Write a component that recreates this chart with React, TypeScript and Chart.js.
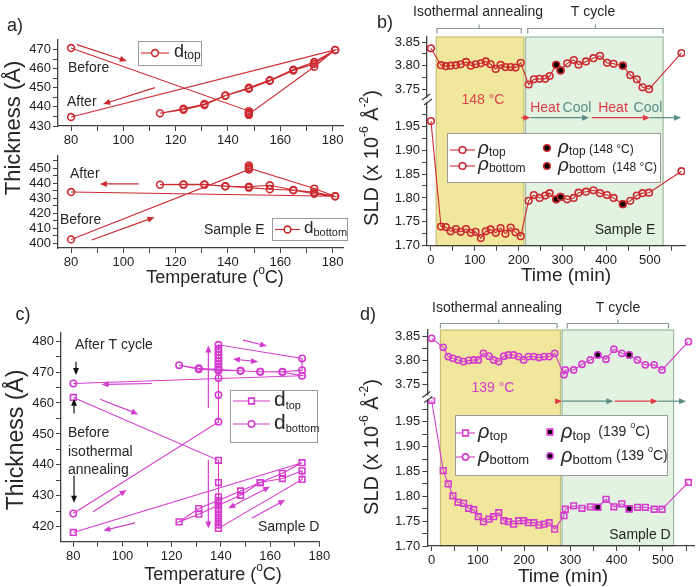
import React, { useEffect, useRef } from 'react';
import { Chart, registerables } from 'chart.js';

Chart.register(...registerables);

const FONT = '"Liberation Sans", Arial, sans-serif';
const RED = '#cc2a31';
const MAG = '#d43ccf';
const INK = '#262626';
const AX = '#404040';
const YEL = '#f0e69c';
const YEL_EDGE = '#c8bd72';
const GRN = '#e3f3e1';
const GRN_EDGE = '#9dba9d';
const BRK = '#8a9aa0';
const HEAT = '#de3b43';
const COOL = '#5b8c86';

// ---------------- Panel a (Sample E, thickness vs temperature) ----------------
const aTopTemp = [80, 148, 148, 148, 148, 148, 173, 181, 173, 165, 156, 148, 139, 131, 123, 114, 123, 131, 139, 148, 156, 165, 173, 181, 80];
const aTopThick = [470.8, 437.8, 436.5, 435.8, 437.0, 436.2, 461.0, 469.8, 463.5, 459.5, 454.0, 450.0, 446.0, 441.5, 439.0, 436.7, 438.5, 441.0, 445.8, 449.5, 453.6, 459.0, 462.5, 469.8, 434.7];
const aBotTemp = [80, 148, 148, 148, 148, 173, 181, 173, 165, 156, 148, 139, 131, 123, 114, 123, 131, 139, 148, 156, 165, 173, 181, 80];
const aBotThick = [402.7, 449.0, 450.5, 451.8, 450.0, 436.4, 431.3, 433.0, 435.3, 436.0, 437.0, 438.0, 439.0, 439.0, 439.0, 439.2, 439.2, 437.9, 437.6, 438.6, 435.5, 434.0, 431.3, 434.1];

// ---------------- Panel b (Sample E, SLD vs time) ----------------
const bTime = [0, 23, 34, 45, 57, 68, 80, 91, 102, 114, 125, 136, 148, 159, 170, 182, 193, 205, 223, 235, 248, 261, 271, 286, 296, 311, 326, 337, 354, 371, 386, 402, 417, 438, 455, 470, 483, 498, 572];
const bBottomSLD = [3.837, 3.801, 3.799, 3.800, 3.801, 3.803, 3.808, 3.800, 3.803, 3.805, 3.809, 3.803, 3.793, 3.802, 3.797, 3.797, 3.796, 3.806, 3.760, 3.771, 3.772, 3.772, 3.778, 3.802, 3.790, 3.805, 3.812, 3.802, 3.809, 3.816, 3.821, 3.806, 3.804, 3.800, 3.780, 3.771, 3.754, 3.750, 3.827];
const bTopSLD = [1.961, 1.740, 1.739, 1.730, 1.735, 1.729, 1.735, 1.727, 1.729, 1.716, 1.730, 1.734, 1.727, 1.737, 1.725, 1.738, 1.728, 1.720, 1.794, 1.806, 1.800, 1.805, 1.810, 1.797, 1.802, 1.797, 1.800, 1.811, 1.813, 1.816, 1.810, 1.806, 1.800, 1.787, 1.794, 1.805, 1.810, 1.811, 1.856];
const bHotTime = [286, 296, 438];
const bHotBottom = [3.802, 3.790, 3.800];
const bHotTop = [1.797, 1.802, 1.787];

// ---------------- Panel c (Sample D, thickness vs temperature) ----------------
const cTopTemp = [80, 139, 139, 139, 139, 139, 139, 139, 139, 139, 139, 139, 173, 173, 165, 156, 148, 139, 131, 123, 131, 139, 148, 156, 165, 173, 80];
const cTopThick = [461.8, 441.5, 434.3, 429.7, 428.0, 426.8, 425.5, 424.2, 423.0, 421.8, 420.6, 419.5, 435.3, 438.1, 435.6, 434.3, 430.2, 427.0, 424.1, 421.6, 425.9, 428.5, 431.6, 434.3, 437.3, 440.7, 418.2];
const cBotTemp = [80, 139, 139, 139, 139, 139, 139, 139, 139, 139, 139, 139, 139, 173, 173, 165, 156, 148, 139, 131, 123, 131, 139, 148, 156, 165, 173, 80];
const cBotThick = [424.3, 453.9, 462.6, 468.1, 470.5, 471.5, 472.5, 473.5, 474.5, 475.5, 476.5, 477.5, 478.8, 474.4, 470.6, 470.1, 470.1, 470.4, 470.6, 470.9, 472.2, 471.2, 470.8, 470.4, 470.1, 470.0, 468.8, 466.3];

// ---------------- Panel d (Sample D, SLD vs time) ----------------
const dTime = [0, 25, 36, 46, 57, 69, 80, 91, 101, 112, 124, 134, 145, 156, 166, 177, 188, 199, 209, 221, 232, 243, 254, 266, 286, 289, 307, 325, 343, 359, 377, 394, 411, 427, 445, 462, 481, 498, 555];
const dBottomSLD = [3.8465, 3.8276, 3.808, 3.8045, 3.801, 3.7975, 3.800, 3.801, 3.801, 3.815, 3.809, 3.801, 3.7975, 3.809, 3.8115, 3.8115, 3.808, 3.801, 3.808, 3.808, 3.806, 3.808, 3.808, 3.815, 3.770, 3.780, 3.780, 3.792, 3.801, 3.8116, 3.8026, 3.8236, 3.815, 3.8116, 3.801, 3.7907, 3.7907, 3.780, 3.8395];
const dTopSLD = [1.993, 1.852, 1.825, 1.801, 1.788, 1.786, 1.776, 1.773, 1.759, 1.749, 1.754, 1.759, 1.767, 1.751, 1.749, 1.744, 1.751, 1.751, 1.747, 1.747, 1.742, 1.744, 1.747, 1.734, 1.761, 1.774, 1.781, 1.776, 1.779, 1.778, 1.794, 1.779, 1.785, 1.775, 1.778, 1.778, 1.774, 1.774, 1.828];
const dHotTime = [359, 427];
const dHotBottom = [3.8116, 3.8116];
const dHotTop = [1.778, 1.775];

// ---------------- Tick values / labels ----------------
const tempTicks = [80, 90, 100, 110, 120, 130, 140, 150, 160, 170, 180];
const tempLabels = [80, 100, 120, 140, 160, 180];
const aTopYTicks = [430, 435, 440, 445, 450, 455, 460, 465, 470];
const aTopYLabels = [430, 440, 450, 460, 470];
const aBotYTicks = [400, 405, 410, 415, 420, 425, 430, 435, 440, 445, 450, 455];
const aBotYLabels = [400, 410, 420, 430, 440, 450];
const cYTicks = [420, 425, 430, 435, 440, 445, 450, 455, 460, 465, 470, 475, 480];
const cYLabels = [420, 430, 440, 450, 460, 470, 480];
const timeTicks = [0, 50, 100, 150, 200, 250, 300, 350, 400, 450, 500, 550];
const timeLabels = [0, 100, 200, 300, 400, 500];
const upTicks = [3.75, 3.775, 3.8, 3.825, 3.85];
const upLabels = [3.75, 3.8, 3.85];
const loTicks = [1.7, 1.725, 1.75, 1.775, 1.8, 1.825, 1.85, 1.875, 1.9, 1.925, 1.95, 1.975];
const loLabels = [1.7, 1.75, 1.8, 1.85, 1.9, 1.95];

// ---------------- helpers ----------------
function axis(pos: string, min: number, max: number, ticks: number[], labels: number[], size: number, dec: number, extra: any = {}) {
  return {
    type: 'linear',
    position: pos,
    min,
    max,
    afterBuildTicks: (s: any) => {
      s.ticks = ticks.map((v) => ({ value: v }));
    },
    afterFit: (s: any) => {
      if (pos === 'bottom') s.height = size;
      else s.width = size;
    },
    ticks: {
      autoSkip: false,
      maxRotation: 0,
      minRotation: 0,
      padding: 2,
      color: '#1c1c1c',
      font: { family: FONT, size: 13 },
      callback: (v: number) => (labels.some((l) => Math.abs(l - v) < 1e-6) ? v.toFixed(dec) : ''),
    },
    grid: { display: true, drawOnChartArea: false, drawTicks: true, tickLength: 5, color: AX, tickColor: AX, lineWidth: 1 },
    border: { display: true, color: AX, width: 1.3 },
    ...extra,
  };
}

function series(xs: number[], ys: number[], color: string, shape: string, r: number, yAxisID: string, fill = 'rgba(0,0,0,0)', line = true) {
  return {
    data: xs.map((x, i) => ({ x, y: ys[i] })),
    yAxisID,
    showLine: line,
    borderColor: color,
    borderWidth: 1.1,
    pointStyle: shape,
    pointRadius: r,
    pointBorderWidth: 1.6,
    pointBorderColor: color,
    pointBackgroundColor: fill,
    backgroundColor: fill,
    tension: 0,
    fill: false,
  };
}

type Seg = { t: string; s?: number; dy?: number; it?: boolean; c?: string };

function rich(ctx: any, segs: Seg[], x: number, y: number, size: number, color: string, align = 'left', rot = 0) {
  ctx.save();
  ctx.translate(x, y);
  if (rot) ctx.rotate(rot);
  ctx.textBaseline = 'middle';
  ctx.textAlign = 'left';
  const fontOf = (s: Seg) => `${s.it ? 'italic ' : ''}${s.s || size}px ${FONT}`;
  let w = 0;
  for (const s of segs) {
    ctx.font = fontOf(s);
    w += ctx.measureText(s.t).width;
  }
  let cx = align === 'center' ? -w / 2 : align === 'right' ? -w : 0;
  for (const s of segs) {
    ctx.font = fontOf(s);
    ctx.fillStyle = s.c || color;
    ctx.fillText(s.t, cx, s.dy || 0);
    cx += ctx.measureText(s.t).width;
  }
  ctx.restore();
}

function txt(ctx: any, t: string, x: number, y: number, size: number, color: string, align = 'left') {
  rich(ctx, [{ t }], x, y, size, color, align);
}

function arrow(ctx: any, x1: number, y1: number, x2: number, y2: number, color: string, both = false, lw = 1.2, hl = 7, hw = 3) {
  ctx.save();
  ctx.strokeStyle = color;
  ctx.fillStyle = color;
  ctx.lineWidth = lw;
  const a = Math.atan2(y2 - y1, x2 - x1);
  const sx = both ? x1 + Math.cos(a) * hl * 0.6 : x1;
  const sy = both ? y1 + Math.sin(a) * hl * 0.6 : y1;
  ctx.beginPath();
  ctx.moveTo(sx, sy);
  ctx.lineTo(x2 - Math.cos(a) * hl * 0.6, y2 - Math.sin(a) * hl * 0.6);
  ctx.stroke();
  const head = (x: number, y: number, ang: number) => {
    ctx.beginPath();
    ctx.moveTo(x, y);
    ctx.lineTo(x - hl * Math.cos(ang) + hw * Math.sin(ang), y - hl * Math.sin(ang) - hw * Math.cos(ang));
    ctx.lineTo(x - hl * Math.cos(ang) - hw * Math.sin(ang), y - hl * Math.sin(ang) + hw * Math.cos(ang));
    ctx.closePath();
    ctx.fill();
  };
  head(x2, y2, a);
  if (both) head(x1, y1, a + Math.PI);
  ctx.restore();
}

function dataArrow(chart: any, yId: string, x1: number, y1: number, x2: number, y2: number, color: string, both = false) {
  const sx = chart.scales.x;
  const sy = chart.scales[yId];
  arrow(chart.ctx, sx.getPixelForValue(x1), sy.getPixelForValue(y1), sx.getPixelForValue(x2), sy.getPixelForValue(y2), color, both);
}

function marker(ctx: any, shape: string, x: number, y: number, r: number, stroke: string, fill: string) {
  ctx.save();
  ctx.lineWidth = 1.6;
  ctx.strokeStyle = stroke;
  ctx.fillStyle = fill;
  ctx.beginPath();
  if (shape === 'rect') {
    const h = r * Math.SQRT1_2;
    ctx.rect(x - h, y - h, 2 * h, 2 * h);
  } else {
    ctx.arc(x, y, r, 0, Math.PI * 2);
  }
  ctx.fill();
  ctx.stroke();
  ctx.restore();
}

function legendLine(ctx: any, x1: number, x2: number, y: number, shape: string, r: number, color: string) {
  ctx.save();
  ctx.strokeStyle = color;
  ctx.lineWidth = 1.1;
  ctx.beginPath();
  ctx.moveTo(x1, y);
  ctx.lineTo(x2, y);
  ctx.stroke();
  ctx.restore();
  marker(ctx, shape, (x1 + x2) / 2, y, r, color, '#fff');
}

function box(ctx: any, x: number, y: number, w: number, h: number) {
  ctx.save();
  ctx.fillStyle = '#fff';
  ctx.fillRect(x, y, w, h);
  ctx.strokeStyle = '#9a9a9a';
  ctx.lineWidth = 1;
  ctx.strokeRect(x + 0.5, y + 0.5, w, h);
  ctx.restore();
}

function bgRect(ctx: any, x1: number, x2: number, y1: number, y2: number, fill: string, edge: string) {
  ctx.save();
  ctx.fillStyle = fill;
  ctx.fillRect(x1, y1, x2 - x1, y2 - y1);
  ctx.strokeStyle = edge;
  ctx.lineWidth = 1.2;
  ctx.strokeRect(x1, y1, x2 - x1, y2 - y1);
  ctx.restore();
}

function bracket(ctx: any, x1: number, x2: number, y: number) {
  ctx.save();
  ctx.strokeStyle = BRK;
  ctx.lineWidth = 1.2;
  ctx.beginPath();
  ctx.moveTo(x1, y + 5);
  ctx.lineTo(x1, y);
  ctx.lineTo(x2, y);
  ctx.lineTo(x2, y + 5);
  const m = (x1 + x2) / 2;
  ctx.moveTo(m, y);
  ctx.lineTo(m, y - 4);
  ctx.stroke();
  ctx.restore();
}

function axisBreak(chart: any) {
  const { ctx, chartArea: ca, scales } = chart;
  const u = scales.yU;
  const l = scales.yL;
  const jy = u.top < l.top ? u.bottom : l.bottom;
  const x = ca.left;
  ctx.save();
  ctx.fillStyle = '#fff';
  ctx.fillRect(x - 3, jy - 2, 6, 4);
  ctx.strokeStyle = AX;
  ctx.lineWidth = 1.2;
  ctx.beginPath();
  ctx.moveTo(x - 5, jy - 0);
  ctx.lineTo(x + 3, jy - 6);
  ctx.moveTo(x - 3, jy + 5);
  ctx.lineTo(x + 5, jy - 1);
  ctx.stroke();
  ctx.restore();
}

function baseOptions(pad: any, scales: any) {
  return {
    responsive: false,
    animation: false,
    devicePixelRatio: 1,
    events: [],
    layout: { padding: pad },
    plugins: { legend: { display: false }, tooltip: { enabled: false } },
    scales,
  };
}

const TEMP_TITLE: Seg[] = [{ t: 'Temperature (' }, { t: 'o', s: 12, dy: -7 }, { t: 'C)' }];
const SLD_TITLE: Seg[] = [{ t: 'SLD (x 10' }, { t: '-6', s: 12, dy: -7 }, { t: ' Å' }, { t: '-2', s: 12, dy: -7 }, { t: ')' }];

// ---------------- Panel builders ----------------
function buildA1() {
  const deco = {
    id: 'decoA1',
    afterDraw(chart: any) {
      const ctx = chart.ctx;
      txt(ctx, 'Before', 68, 68, 14, INK);
      txt(ctx, 'After', 67, 102, 14, INK);
      dataArrow(chart, 'y', 82.2, 472.6, 101.3, 464.0, RED);
      dataArrow(chart, 'y', 112.1, 450.1, 92.3, 441.5, RED);
      box(ctx, 138, 41, 63, 24);
      legendLine(ctx, 141, 169, 53, 'circle', 3.4, RED);
      rich(ctx, [{ t: 'd', s: 18 }, { t: 'top', s: 12, dy: 4 }], 174, 52, 18, INK);
    },
  };
  return {
    type: 'scatter',
    data: { datasets: [series(aTopTemp, aTopThick, RED, 'circle', 3.4, 'y')] },
    options: baseOptions({ left: 0, top: 40, right: 7, bottom: 0 }, {
      x: axis('bottom', 75, 184, tempTicks, tempLabels, 24, 0),
      y: axis('left', 430, 475, aTopYTicks, aTopYLabels, 58, 0),
    }),
    plugins: [deco],
  };
}

function buildA2() {
  const deco = {
    id: 'decoA2',
    afterDraw(chart: any) {
      const ctx = chart.ctx;
      txt(ctx, 'a)', 15, 26, 18, INK, 'center');
      rich(ctx, [{ t: 'Thickness (Å)' }], 14, 128, 22, INK, 'center', -Math.PI / 2);
      rich(ctx, TEMP_TITLE, 215, 278, 18, INK, 'center');
      txt(ctx, 'After', 70, 174, 14, INK);
      txt(ctx, 'Before', 60, 220, 14, INK);
      txt(ctx, 'Sample E', 204, 230, 14, INK);
      dataArrow(chart, 'y', 105.8, 439.5, 91.0, 439.5, RED);
      dataArrow(chart, 'y', 87.9, 402.3, 111.9, 417.4, RED);
      box(ctx, 272, 218, 75, 22);
      legendLine(ctx, 275, 300, 229.5, 'circle', 3.4, RED);
      rich(ctx, [{ t: 'd', s: 17 }, { t: 'bottom', s: 11, dy: 4 }], 304, 228.5, 17, INK);
    },
  };
  return {
    type: 'scatter',
    data: { datasets: [series(aBotTemp, aBotThick, RED, 'circle', 3.4, 'y')] },
    options: baseOptions({ left: 0, top: 156, right: 7, bottom: 0 }, {
      x: axis('bottom', 75, 184, tempTicks, tempLabels, 42, 0),
      y: axis('left', 397, 458, aBotYTicks, aBotYLabels, 58, 0),
    }),
    plugins: [deco],
  };
}

function buildB() {
  const deco = {
    id: 'decoB',
    beforeDraw(chart: any) {
      const { ctx, chartArea: ca, scales } = chart;
      const x = scales.x;
      bgRect(ctx, x.getPixelForValue(12), x.getPixelForValue(212), ca.top, ca.bottom, YEL, YEL_EDGE);
      bgRect(ctx, x.getPixelForValue(216), x.getPixelForValue(530), ca.top, ca.bottom, GRN, GRN_EDGE);
    },
    afterDraw(chart: any) {
      const { ctx, scales } = chart;
      const x = scales.x;
      axisBreak(chart);
      bracket(ctx, x.getPixelForValue(14), x.getPixelForValue(206), 28.5);
      bracket(ctx, x.getPixelForValue(221), x.getPixelForValue(530), 28.5);
      txt(ctx, 'Isothermal annealing', 128, 12, 14, INK, 'center');
      txt(ctx, 'T cycle', 243, 12, 14, INK, 'center');
      txt(ctx, 'b)', 35, 23, 18, INK, 'center');
      txt(ctx, '148 °C', 133, 100, 14, '#d8464c', 'center');
      const ay = scales.yL.getPixelForValue(1.968);
      arrow(ctx, x.getPixelForValue(206), ay, x.getPixelForValue(227), ay, HEAT);
      arrow(ctx, x.getPixelForValue(227), ay, x.getPixelForValue(361), ay, COOL);
      arrow(ctx, x.getPixelForValue(367), ay, x.getPixelForValue(500), ay, HEAT);
      arrow(ctx, x.getPixelForValue(500), ay, x.getPixelForValue(571), ay, COOL);
      txt(ctx, 'Heat', 195, 108, 14, HEAT, 'center');
      txt(ctx, 'Cool', 227, 108, 14, COOL, 'center');
      txt(ctx, 'Heat', 263, 108, 14, HEAT, 'center');
      txt(ctx, 'Cool', 298, 108, 14, COOL, 'center');
      box(ctx, 97, 133, 213, 49);
      legendLine(ctx, 100, 125, 150, 'circle', 3.3, RED);
      rich(ctx, [{ t: 'ρ', s: 19, it: true }, { t: 'top', s: 12, dy: 4 }], 128, 149, 19, INK);
      legendLine(ctx, 100, 125, 166, 'circle', 3.3, RED);
      rich(ctx, [{ t: 'ρ', s: 19, it: true }, { t: 'bottom', s: 12, dy: 4 }], 128, 165, 19, INK);
      marker(ctx, 'circle', 197, 148, 3.3, RED, '#000');
      rich(ctx, [{ t: 'ρ', s: 19, it: true }, { t: 'top', s: 12, dy: 4 }, { t: ' (148 °C)', s: 12, dy: 2 }], 208, 148, 19, INK);
      marker(ctx, 'circle', 197, 166, 3.3, RED, '#000');
      rich(ctx, [{ t: 'ρ', s: 19, it: true }, { t: 'bottom', s: 12, dy: 4 }, { t: '  (148 °C)', s: 12, dy: 2 }], 208, 166, 19, INK);
      txt(ctx, 'Sample E', 275, 230, 14, INK, 'center');
      rich(ctx, SLD_TITLE, 22, 158, 20, INK, 'center', -Math.PI / 2);
      txt(ctx, 'Time (min)', 216, 276, 19, INK, 'center');
    },
  };
  return {
    type: 'scatter',
    data: {
      datasets: [
        series(bHotTime, bHotBottom, RED, 'circle', 3.3, 'yU', '#000', false),
        series(bHotTime, bHotTop, RED, 'circle', 3.3, 'yL', '#000', false),
        series(bTime, bBottomSLD, RED, 'circle', 3.3, 'yU'),
        series(bTime, bTopSLD, RED, 'circle', 3.3, 'yL'),
      ],
    },
    options: baseOptions({ left: 0, top: 37, right: 15, bottom: 0 }, {
      x: axis('bottom', -9, 580, timeTicks, timeLabels, 44.3, 0),
      yL: axis('left', 1.7, 2.005, loTicks, loLabels, 77, 2, { stack: 'sld', stackWeight: 145.7 }),
      yU: axis('left', 3.727, 3.861, upTicks, upLabels, 77, 2, { stack: 'sld', stackWeight: 63 }),
    }),
    plugins: [deco],
  };
}

function buildC() {
  const deco = {
    id: 'decoC',
    afterDraw(chart: any) {
      const ctx = chart.ctx;
      txt(ctx, 'c)', 23, 25, 18, INK, 'center');
      rich(ctx, [{ t: 'Thickness (Å)' }], 17, 150, 23, INK, 'center', -Math.PI / 2);
      rich(ctx, TEMP_TITLE, 213, 285, 18, INK, 'center');
      txt(ctx, 'After T cycle', 75, 55, 14, INK);
      txt(ctx, 'Before', 68, 143, 14, INK);
      txt(ctx, 'isothermal', 68, 162, 14, INK);
      txt(ctx, 'annealing', 68, 180, 14, INK);
      txt(ctx, 'Sample D', 258, 237, 14, INK);
      dataArrow(chart, 'y', 81.1, 473.3, 81.1, 469.0, '#111');
      dataArrow(chart, 'y', 80.3, 456.6, 80.3, 461.4, '#111');
      dataArrow(chart, 'y', 80.3, 436.5, 80.3, 427.8, '#111');
      dataArrow(chart, 'y', 111.9, 466.3, 91.5, 466.0, MAG);
      dataArrow(chart, 'y', 90.9, 461.2, 106.4, 456.4, MAG);
      dataArrow(chart, 'y', 88.1, 424.9, 101.7, 431.9, MAG);
      dataArrow(chart, 'y', 105.1, 421.3, 92.2, 418.8, MAG);
      dataArrow(chart, 'y', 149.0, 480.3, 158.7, 478.4, MAG);
      dataArrow(chart, 'y', 144.9, 474.2, 155.1, 473.3, MAG, true);
      dataArrow(chart, 'y', 134.9, 458.4, 134.9, 478.6, MAG);
      dataArrow(chart, 'y', 134.9, 441.6, 134.9, 419.5, MAG);
      dataArrow(chart, 'y', 143.0, 426.0, 160.0, 433.0, MAG, true);
      dataArrow(chart, 'y', 152.5, 422.8, 166.1, 428.7, MAG);
      box(ctx, 230, 100, 87, 52);
      legendLine(ctx, 233, 270, 111, 'rect', 4, MAG);
      rich(ctx, [{ t: 'd', s: 21 }, { t: 'top', s: 11, dy: 6 }], 274, 110, 21, INK);
      legendLine(ctx, 233, 270, 134, 'circle', 3.2, MAG);
      rich(ctx, [{ t: 'd', s: 21 }, { t: 'bottom', s: 11, dy: 6 }], 274, 133, 21, INK);
    },
  };
  return {
    type: 'scatter',
    data: {
      datasets: [
        series(cTopTemp, cTopThick, MAG, 'rect', 4, 'y'),
        series(cBotTemp, cBotThick, MAG, 'circle', 3.2, 'y'),
      ],
    },
    options: baseOptions({ left: 0, top: 42.7, right: 30.7, bottom: 0 }, {
      x: axis('bottom', 75, 180, tempTicks, tempLabels, 45.3, 0),
      y: axis('left', 415.2, 482.7, cYTicks, cYLabels, 61, 0),
    }),
    plugins: [deco],
  };
}

function buildD() {
  const deco = {
    id: 'decoD',
    beforeDraw(chart: any) {
      const { ctx, chartArea: ca, scales } = chart;
      const x = scales.x;
      bgRect(ctx, x.getPixelForValue(19), x.getPixelForValue(278.5), ca.top, ca.bottom, YEL, YEL_EDGE);
      bgRect(ctx, x.getPixelForValue(282), x.getPixelForValue(523), ca.top, ca.bottom, GRN, GRN_EDGE);
    },
    afterDraw(chart: any) {
      const { ctx, scales } = chart;
      const x = scales.x;
      axisBreak(chart);
      bracket(ctx, x.getPixelForValue(19), x.getPixelForValue(271), 33.5);
      bracket(ctx, x.getPixelForValue(293), x.getPixelForValue(512), 33.5);
      txt(ctx, 'Isothermal annealing', 147, 18, 14, INK, 'center');
      txt(ctx, 'T cycle', 268, 18, 14, INK, 'center');
      txt(ctx, 'd)', 18, 25, 18, INK, 'center');
      txt(ctx, '139 °C', 143, 98, 14, MAG, 'center');
      const ay = scales.yL.getPixelForValue(1.9916);
      arrow(ctx, x.getPixelForValue(276), ay, x.getPixelForValue(282), ay, HEAT);
      arrow(ctx, x.getPixelForValue(282), ay, x.getPixelForValue(393), ay, COOL);
      arrow(ctx, x.getPixelForValue(396), ay, x.getPixelForValue(489), ay, HEAT);
      arrow(ctx, x.getPixelForValue(489), ay, x.getPixelForValue(550), ay, COOL);
      box(ctx, 105, 125, 212, 60);
      legendLine(ctx, 106, 125, 143, 'rect', 4, MAG);
      rich(ctx, [{ t: 'ρ', s: 20, it: true }, { t: 'top', s: 13, dy: 4 }], 128, 142, 20, INK);
      legendLine(ctx, 106, 125, 167, 'circle', 3.1, MAG);
      rich(ctx, [{ t: 'ρ', s: 20, it: true }, { t: 'bottom', s: 13, dy: 4 }], 128, 166, 20, INK);
      marker(ctx, 'rect', 200, 142, 4, MAG, '#000');
      rich(ctx, [{ t: 'ρ', s: 20, it: true }, { t: 'top', s: 13, dy: 4 }, { t: '  (139 ', s: 14 }, { t: 'o', s: 9, dy: -6 }, { t: 'C)', s: 14 }], 211, 142, 20, INK);
      marker(ctx, 'circle', 200, 166, 3.1, MAG, '#000');
      rich(ctx, [{ t: 'ρ', s: 20, it: true }, { t: 'bottom', s: 13, dy: 4 }, { t: ' (139 ', s: 14 }, { t: 'o', s: 9, dy: -6 }, { t: 'C)', s: 14 }], 211, 166, 20, INK);
      txt(ctx, 'Sample D', 290, 245, 14, INK, 'center');
      rich(ctx, SLD_TITLE, 22, 157, 20, INK, 'center', -Math.PI / 2);
      txt(ctx, 'Time (min)', 213, 287, 19, INK, 'center');
    },
  };
  return {
    type: 'scatter',
    data: {
      datasets: [
        series(dHotTime, dHotBottom, MAG, 'circle', 3.1, 'yU', '#000', false),
        series(dHotTime, dHotTop, MAG, 'rect', 4, 'yL', '#000', false),
        series(dTime, dBottomSLD, MAG, 'circle', 3.1, 'yU'),
        series(dTime, dTopSLD, MAG, 'rect', 4, 'yL'),
      ],
    },
    options: baseOptions({ left: 0, top: 40, right: 3.3, bottom: 0 }, {
      x: axis('bottom', -9.4, 568, timeTicks, timeLabels, 41, 0),
      yL: axis('left', 1.7, 1.999, loTicks, loLabels, 77.3, 2, { stack: 'sld', stackWeight: 148.5 }),
      yU: axis('left', 3.722, 3.864, upTicks, upLabels, 77.3, 2, { stack: 'sld', stackWeight: 67.5 }),
    }),
    plugins: [deco],
  };
}

function ChartCanvas({ x, y, w, h, build }: { x: number; y: number; w: number; h: number; build: () => any }) {
  const ref = useRef<HTMLCanvasElement>(null);
  useEffect(() => {
    const chart = new Chart(ref.current as HTMLCanvasElement, build());
    return () => chart.destroy();
  }, []);
  return <canvas ref={ref} width={w} height={h} style={{ position: 'absolute', left: x, top: y, width: w, height: h }} />;
}

export default function App() {
  return (
    <div style={{ position: 'absolute', left: 0, top: 0, width: 700, height: 587, background: '#fff', overflow: 'hidden' }}>
      <ChartCanvas x={0} y={0} w={350} h={290} build={buildA2} />
      <ChartCanvas x={0} y={0} w={350} h={150} build={buildA1} />
      <ChartCanvas x={350} y={0} w={350} h={290} build={buildB} />
      <ChartCanvas x={0} y={290} w={350} h={297} build={buildC} />
      <ChartCanvas x={350} y={290} w={350} h={297} build={buildD} />
    </div>
  );
}
